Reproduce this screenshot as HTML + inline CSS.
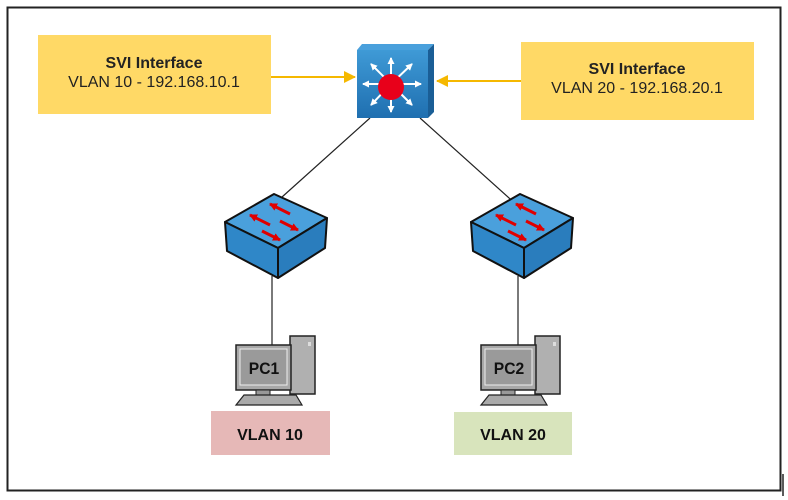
<!DOCTYPE html>
<html><head><meta charset="utf-8"><style>
html,body{margin:0;padding:0;background:#fff;width:788px;height:500px;overflow:hidden}
svg{display:block}
text{font-family:"Liberation Sans",sans-serif}
</style></head><body>
<svg width="788" height="500" viewBox="0 0 788 500" xmlns="http://www.w3.org/2000/svg">
<defs>
<linearGradient id="bl" x1="0" y1="0" x2="0" y2="1"><stop offset="0" stop-color="#3f9ad6"/><stop offset="1" stop-color="#1f6fb0"/></linearGradient>
<marker id="ar" markerWidth="12" markerHeight="12" refX="11" refY="6" orient="auto" markerUnits="userSpaceOnUse"><path d="M0,0 L12,6 L0,12 Z" fill="#F5B800"/></marker>
<marker id="rr" markerWidth="8" markerHeight="8" refX="7" refY="4" orient="auto" markerUnits="userSpaceOnUse"><path d="M0,0 L8,4 L0,8 Z" fill="#e00000"/></marker>
<marker id="wa" markerWidth="7" markerHeight="7" refX="6" refY="3.5" orient="auto" markerUnits="userSpaceOnUse"><path d="M0,0 L7,3.5 L0,7 Z" fill="#fff"/></marker>
</defs>
<rect x="7.5" y="7.5" width="773" height="483" fill="none" stroke="#222" stroke-width="2"/>
<line x1="783" y1="474" x2="783" y2="496" stroke="#222" stroke-width="1.5"/>

<rect x="38" y="35" width="233" height="79" fill="#FFD966"/>
<text x="154" y="68" text-anchor="middle" font-size="16" font-weight="bold" fill="#222">SVI Interface</text>
<text x="154" y="87" text-anchor="middle" font-size="16" fill="#222">VLAN 10 - 192.168.10.1</text>
<rect x="521" y="42" width="233" height="78" fill="#FFD966"/>
<text x="637" y="74" text-anchor="middle" font-size="16" font-weight="bold" fill="#222">SVI Interface</text>
<text x="637" y="93" text-anchor="middle" font-size="16" fill="#222">VLAN 20 - 192.168.20.1</text>

<line x1="271" y1="77" x2="355" y2="77" stroke="#F5B800" stroke-width="2" marker-end="url(#ar)"/>
<line x1="521" y1="81" x2="437" y2="81" stroke="#F5B800" stroke-width="2" marker-end="url(#ar)"/>

<line x1="370" y1="118" x2="272" y2="206" stroke="#222" stroke-width="1.2"/>
<line x1="420" y1="118" x2="518" y2="206" stroke="#222" stroke-width="1.2"/>
<line x1="272" y1="276" x2="272" y2="346" stroke="#222" stroke-width="1.2"/>
<line x1="518" y1="276" x2="518" y2="346" stroke="#222" stroke-width="1.2"/>

<polygon points="357,50 362,44 434,44 428,50" fill="#4aa0dc"/>
<polygon points="428,50 434,44 434,112 428,118" fill="#1a5e96"/>
<rect x="357" y="50" width="71" height="68" fill="url(#bl)"/>
<g stroke="#fff" stroke-width="2">
<line x1="391" y1="84" x2="391" y2="58" marker-end="url(#wa)"/>
<line x1="391" y1="84" x2="391" y2="112" marker-end="url(#wa)"/>
<line x1="391" y1="84" x2="363" y2="84" marker-end="url(#wa)"/>
<line x1="391" y1="84" x2="421" y2="84" marker-end="url(#wa)"/>
<line x1="391" y1="84" x2="371" y2="64" marker-end="url(#wa)"/>
<line x1="391" y1="84" x2="412" y2="64" marker-end="url(#wa)"/>
<line x1="391" y1="84" x2="371" y2="105" marker-end="url(#wa)"/>
<line x1="391" y1="84" x2="412" y2="105" marker-end="url(#wa)"/>
</g>
<circle cx="391" cy="87" r="13" fill="#e8001a"/>

<g id="sw">
<polygon points="225,222 274,194 327,218 278,248" fill="#4aa0dc" stroke="#111" stroke-width="2" stroke-linejoin="round"/>
<polygon points="225,222 278,248 278,278 227,251" fill="#2f87c8" stroke="#111" stroke-width="2" stroke-linejoin="round"/>
<polygon points="278,248 327,218 325,248 278,278" fill="#2a7dbd" stroke="#111" stroke-width="2" stroke-linejoin="round"/>
<line x1="290" y1="214" x2="270" y2="204" stroke="#e00000" stroke-width="3" marker-end="url(#rr)"/>
<line x1="270" y1="225" x2="250" y2="215" stroke="#e00000" stroke-width="3" marker-end="url(#rr)"/>
<line x1="280" y1="221" x2="298" y2="230" stroke="#e00000" stroke-width="3" marker-end="url(#rr)"/>
<line x1="262" y1="231" x2="280" y2="240" stroke="#e00000" stroke-width="3" marker-end="url(#rr)"/>
</g>
<use href="#sw" transform="translate(246,0)"/>

<g id="pc">
<rect x="290" y="336" width="25" height="58" fill="#b0b0b0" stroke="#222" stroke-width="1.5"/>
<rect x="308" y="342" width="3" height="4" fill="#ddd"/>
<rect x="236" y="345" width="55" height="45" fill="#a8a8a8" stroke="#222" stroke-width="1.5"/>
<rect x="240" y="349" width="47" height="36" fill="#9a9a9a" stroke="#eee" stroke-width="1"/>
<rect x="256" y="390" width="14" height="5" fill="#999" stroke="#222"/>
<polygon points="244,395 296,395 302,405 236,405" fill="#aaa" stroke="#222" stroke-width="1.2"/>
</g>
<text x="264" y="374" text-anchor="middle" font-size="17" font-weight="bold" fill="#111" transform="translate(264 0) scale(0.92 1) translate(-264 0)">PC1</text>
<use href="#pc" transform="translate(245,0)"/>
<text x="509" y="374" text-anchor="middle" font-size="17" font-weight="bold" fill="#111" transform="translate(509 0) scale(0.92 1) translate(-509 0)">PC2</text>

<rect x="211" y="411" width="119" height="44" fill="#E6B8B7"/>
<text x="270" y="440" text-anchor="middle" font-size="16" font-weight="bold" fill="#111">VLAN 10</text>
<rect x="454" y="412" width="118" height="43" fill="#D8E4BC"/>
<text x="513" y="440" text-anchor="middle" font-size="16" font-weight="bold" fill="#111">VLAN 20</text>
</svg>
</body></html>
